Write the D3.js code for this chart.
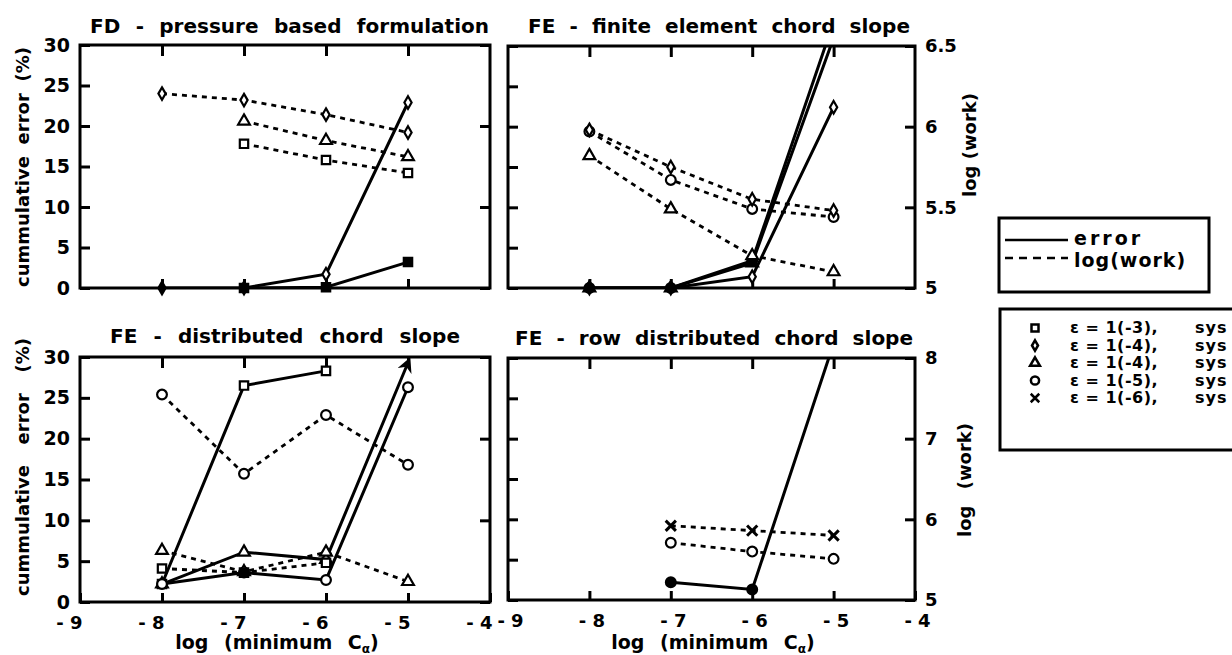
<!DOCTYPE html>
<html>
<head>
<meta charset="utf-8">
<script src="https://cdn.jsdelivr.net/npm/d3@7"></script>
<style>
body { margin: 0; background: #fff; }
svg text { font-family: "DejaVu Sans", "Liberation Sans", Arial, sans-serif; font-weight: bold; fill: #000; }
</style>
</head>
<body>
<svg id="chart" width="1232" height="655"></svg>
<script>
// x positions (log of minimum C_alpha)
var xVals = [-8, -7, -6, -5];
var xTicks = [-9, -8, -7, -6, -5, -4];
var errTicks = [0, 5, 10, 15, 20, 25, 30];
var workTicksTop = [5, 5.5, 6, 6.5];
var workTicksBottom = [5, 6, 7, 8];

// FD - pressure based formulation
var fdErrDiamond = [0, 0, 1.7, 22.9];
var fdErrSquare = [null, 0, 0.1, 3.2];
var fdWorkDiamond = [6.20, 6.16, 6.07, 5.96];
var fdWorkTriangle = [null, 6.03, 5.91, 5.81];
var fdWorkSquare = [null, 5.89, 5.79, 5.71];

// FE - finite element chord slope
var feErrCircle = [0, 0, 3.4, 33];
var feErrTriangle = [0, 0, 3.1, 31];
var feErrDiamond = [0, 0, 1.4, 22.4];
var feWorkCircle = [5.97, 5.67, 5.49, 5.44];
var feWorkDiamond = [5.98, 5.75, 5.55, 5.48];
var feWorkTriangle = [5.82, 5.49, 5.20, 5.10];

// FE - distributed chord slope
var dcErrSquare = [2.2, 26.5, 28.3, null];
var dcErrTriangle = [2.2, 6.1, 5.2, 29.3];
var dcErrCircle = [2.2, 3.6, 2.7, 26.3];
var dcWorkCircle = [7.54, 6.57, 7.29, 6.68];
var dcWorkTriangle = [5.63, 5.37, 5.61, 5.25];
var dcWorkSquare = [5.41, 5.36, 5.48, null];

// FE - row distributed chord slope
var rdErrCircle = [null, 2.2, 1.3, 31.8];
var rdWorkCross = [null, 5.92, 5.86, 5.80];
var rdWorkCircle = [null, 5.71, 5.60, 5.51];

var legendSymbols = ["square", "diamond", "triangle", "circle", "cross"];
var legendEps = ["\u03b5 = 1(-3),", "\u03b5 = 1(-4),", "\u03b5 = 1(-4),", "\u03b5 = 1(-5),", "\u03b5 = 1(-6),"];

var svg = d3.select("#chart");
var defs = svg.append("defs");

var symTypes = {
  square: d3.symbolSquare,
  diamond: d3.symbolDiamond,
  triangle: d3.symbolTriangle,
  circle: d3.symbolCircle,
  cross: d3.symbolTimes || d3.symbolCross
};
var symSizes = { square: 70, diamond: 45, triangle: 60, circle: 75, cross: 70 };

var panels = [
  { id: "tl", x0: 80, x1: 490, y0: 45, y1: 288, work: [5, 6.5], workTicks: workTicksTop,
    title: "FD - pressure based formulation", tx: 90, tw: 399, ty: 33,
    left: true, right: false, bottom: false, anchor: "end",
    series: [
      { v: fdErrDiamond, kind: "err", sym: "diamond", fill: [true, true, false, false] },
      { v: fdErrSquare, kind: "err", sym: "square", fill: [true, true, true, true] },
      { v: fdWorkDiamond, kind: "work", sym: "diamond" },
      { v: fdWorkTriangle, kind: "work", sym: "triangle" },
      { v: fdWorkSquare, kind: "work", sym: "square" }
    ] },
  { id: "tr", x0: 508, x1: 915, y0: 46, y1: 288, work: [5, 6.5], workTicks: workTicksTop,
    title: "FE - finite element chord slope", tx: 528, tw: 382, ty: 33,
    left: false, right: true, bottom: false, anchor: "middle",
    series: [
      { v: feErrCircle, kind: "err", sym: "circle", fill: [true, true, true, true] },
      { v: feErrTriangle, kind: "err", sym: "triangle", fill: [true, true, true, true] },
      { v: feErrDiamond, kind: "err", sym: "diamond", fill: [true, true, false, false] },
      { v: feWorkCircle, kind: "work", sym: "circle" },
      { v: feWorkDiamond, kind: "work", sym: "diamond" },
      { v: feWorkTriangle, kind: "work", sym: "triangle" }
    ] },
  { id: "bl", x0: 80, x1: 490, y0: 357, y1: 602, work: [5, 8], workTicks: workTicksBottom,
    title: "FE - distributed chord slope", tx: 110, tw: 350, ty: 343,
    left: true, right: false, bottom: true, anchor: "end",
    series: [
      { v: dcErrSquare, kind: "err", sym: "square" },
      { v: dcErrTriangle, kind: "err", sym: "triangle", arrow: true },
      { v: dcErrCircle, kind: "err", sym: "circle" },
      { v: dcWorkCircle, kind: "work", sym: "circle" },
      { v: dcWorkTriangle, kind: "work", sym: "triangle" },
      { v: dcWorkSquare, kind: "work", sym: "square", fill: [false, true, false, false] }
    ] },
  { id: "br", x0: 508, x1: 915, y0: 358, y1: 600, work: [5, 8], workTicks: workTicksBottom,
    title: "FE - row distributed chord slope", tx: 515, tw: 398, ty: 345,
    left: false, right: true, bottom: true, anchor: "middle",
    series: [
      { v: rdErrCircle, kind: "err", sym: "circle", fill: [true, true, true, true] },
      { v: rdWorkCross, kind: "work", sym: "cross" },
      { v: rdWorkCircle, kind: "work", sym: "circle" }
    ] }
];

// arrow head for the off-scale point
defs.append("marker")
  .attr("id", "arrow")
  .attr("viewBox", "0 0 10 10")
  .attr("refX", 6).attr("refY", 5)
  .attr("markerWidth", 5).attr("markerHeight", 5)
  .attr("markerUnits", "strokeWidth")
  .attr("orient", "auto")
  .append("path").attr("d", "M0,0 L10,5 L0,10 L3,5 Z").attr("fill", "#000");

function fmtX(d) { return (d < 0 ? "- " : "") + Math.abs(d); }

// stretch the gaps between words so the text spans a given width
function fitWords(t, target) {
  var str = t.text();
  var gaps = (str.match(/ /g) || []).length;
  var w = t.node().getComputedTextLength();
  if (gaps > 0 && w < target) t.style("word-spacing", ((target - w) / gaps) + "px");
}

panels.forEach(function(p) {
  var x = d3.scaleLinear().domain([-9, -4]).range([p.x0, p.x1]);
  var yE = d3.scaleLinear().domain([0, 30]).range([p.y1, p.y0]);
  var yW = d3.scaleLinear().domain(p.work).range([p.y1, p.y0]);

  var g = svg.append("g");

  defs.append("clipPath").attr("id", "clip-" + p.id)
    .append("rect").attr("x", p.x0).attr("y", p.y0)
    .attr("width", p.x1 - p.x0).attr("height", p.y1 - p.y0);

  // axes with inward ticks
  var aL = g.append("g").attr("transform", "translate(" + p.x0 + ",0)")
    .call(d3.axisLeft(yE).tickValues(errTicks).tickSize(-10).tickPadding(10)
      .tickFormat(p.left ? d3.format("d") : ""));
  var aR = g.append("g").attr("transform", "translate(" + p.x1 + ",0)")
    .call(d3.axisRight(yW).tickValues(p.workTicks).tickSize(-10).tickPadding(10)
      .tickFormat(p.right ? function(d) { return String(d); } : ""));
  var aT = g.append("g").attr("transform", "translate(0," + p.y0 + ")")
    .call(d3.axisTop(x).tickValues(xVals).tickSize(-11).tickFormat(""));
  var aB = g.append("g").attr("transform", "translate(0," + p.y1 + ")")
    .call(d3.axisBottom(x).tickValues(p.bottom ? xTicks : xVals).tickSize(-9).tickPadding(14)
      .tickFormat(p.bottom ? fmtX : ""));

  [aL, aR, aT, aB].forEach(function(a) {
    a.select(".domain").remove();
    a.selectAll(".tick line").attr("stroke", "#000").attr("stroke-width", 3);
    a.selectAll(".tick text").style("font-size", "19px");
  });
  aR.selectAll(".tick text").style("font-size", "18px");
  aB.selectAll(".tick text").style("font-size", "18px").attr("dy", "0.72em")
    .attr("text-anchor", p.anchor).attr("dx", 2);

  g.append("rect")
    .attr("x", p.x0).attr("y", p.y0)
    .attr("width", p.x1 - p.x0).attr("height", p.y1 - p.y0)
    .attr("fill", "none").attr("stroke", "#000").attr("stroke-width", 3);

  // title
  var tt = g.append("text")
    .attr("x", p.tx).attr("y", p.ty)
    .style("font-size", "20px")
    .text(p.title);
  fitWords(tt, p.tw);

  // series
  var plot = g.append("g").attr("clip-path", "url(#clip-" + p.id + ")");
  var marks = g.append("g");

  p.series.forEach(function(s) {
    var yS = s.kind === "err" ? yE : yW;
    var pts = xVals.map(function(xv, i) { return { x: xv, y: s.v[i], i: i }; })
      .filter(function(d) { return d.y !== null; });
    var line = d3.line().x(function(d) { return x(d.x); }).y(function(d) { return yS(d.y); });

    var path = plot.append("path")
      .datum(pts)
      .attr("d", line)
      .attr("fill", "none")
      .attr("stroke", "#000")
      .attr("stroke-width", s.kind === "err" ? 3 : 2.8)
      .attr("stroke-dasharray", s.kind === "err" ? null : "5,5");

    if (s.arrow) {
      path.attr("marker-end", "url(#arrow)");
    }

    var dom = yS.domain();
    marks.selectAll(null)
      .data(pts.filter(function(d, k) {
        return d.y >= dom[0] && d.y <= dom[1] && !(s.arrow && k === pts.length - 1);
      }))
      .enter().append("path")
      .attr("transform", function(d) {
        return "translate(" + x(d.x) + "," + yS(d.y) + ")";
      })
      .attr("d", d3.symbol().type(symTypes[s.sym]).size(symSizes[s.sym]))
      .attr("fill", function(d) { return s.fill && s.fill[d.i] ? "#000" : "#fff"; })
      .attr("stroke", "#000")
      .attr("stroke-width", s.sym === "cross" ? 3 : 2.2);
  });
});

// axis titles
function yTitle(cx, cy, len, txt) {
  var t = svg.append("text")
    .attr("transform", "translate(" + cx + "," + cy + ") rotate(-90)")
    .attr("text-anchor", "middle")
    .attr("dy", "0.35em")
    .style("font-size", "18px")
    .text(txt);
  fitWords(t, len);
}
yTitle(23, 167, 240, "cummulative error (%)");
yTitle(23, 467, 258, "cummulative error (%)");
yTitle(970, 145, 92, "log (work)");
yTitle(965, 480, 114, "log (work)");

function xTitle(cx) {
  var t = svg.append("text")
    .attr("x", cx).attr("y", 649)
    .attr("text-anchor", "middle")
    .style("font-size", "19px")
    .style("word-spacing", "9px");
  t.append("tspan").text("log (minimum C");
  t.append("tspan").attr("dy", 4).style("font-size", "12px").text("\u03b1");
  t.append("tspan").attr("dy", -4).text(")");
}
xTitle(277);
xTitle(713);

// legend: line styles
var lg1 = svg.append("g");
lg1.append("rect").attr("x", 999).attr("y", 218).attr("width", 210).attr("height", 74)
  .attr("fill", "#fff").attr("stroke", "#000").attr("stroke-width", 3);
lg1.append("line").attr("x1", 1005).attr("x2", 1068).attr("y1", 240).attr("y2", 240)
  .attr("stroke", "#000").attr("stroke-width", 2.5);
lg1.append("line").attr("x1", 1005).attr("x2", 1068).attr("y1", 258).attr("y2", 258)
  .attr("stroke", "#000").attr("stroke-width", 2.5).attr("stroke-dasharray", "8,6");
lg1.append("text").attr("x", 1074).attr("y", 245).style("font-size", "19px")
  .style("letter-spacing", "3px").text("error");
lg1.append("text").attr("x", 1074).attr("y", 267).style("font-size", "19px")
  .style("letter-spacing", "1px").text("log(work)");

// legend: symbols
var lg2 = svg.append("g");
lg2.append("rect").attr("x", 1000).attr("y", 309).attr("width", 260).attr("height", 141)
  .attr("fill", "#fff").attr("stroke", "#000").attr("stroke-width", 3);
var rows = lg2.selectAll(".row").data(legendSymbols).enter().append("g")
  .attr("transform", function(d, i) { return "translate(0," + (328 + i * 17.5) + ")"; });
rows.append("path")
  .attr("transform", "translate(1035,0)")
  .attr("d", function(d) { return d3.symbol().type(symTypes[d]).size(symSizes[d] * 0.7)(); })
  .attr("fill", "#fff").attr("stroke", "#000").attr("stroke-width", 2.5);
rows.append("text").attr("x", 1070).attr("dy", "0.34em").style("font-size", "16px")
  .style("letter-spacing", "0.5px")
  .text(function(d, i) { return legendEps[i]; });
rows.append("text").attr("x", 1195).attr("dy", "0.34em").style("font-size", "16px")
  .style("letter-spacing", "1px")
  .text("sys");
</script>
</body>
</html>
